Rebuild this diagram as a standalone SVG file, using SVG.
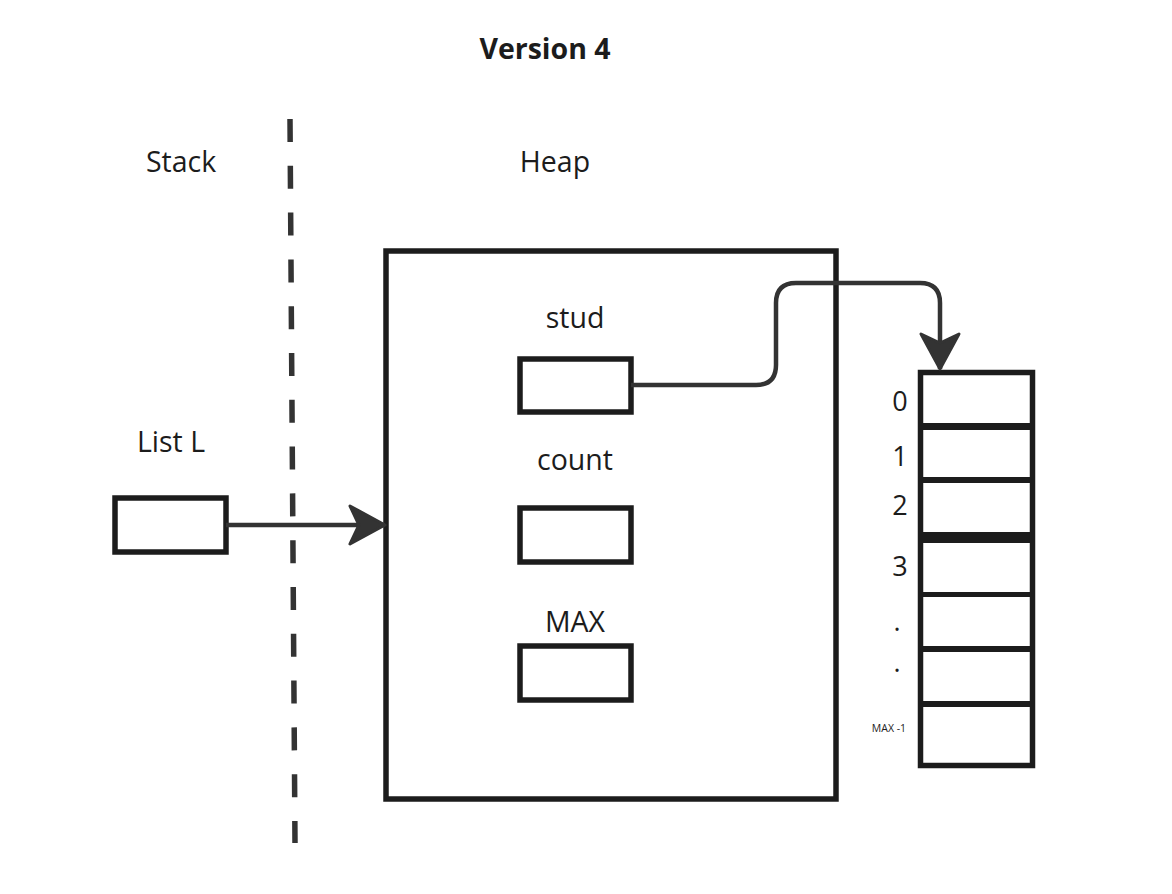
<svg xmlns="http://www.w3.org/2000/svg" width="1172" height="894" viewBox="0 0 1172 894">
  <style>
    .t { font-family: "Open Sans", "Noto Sans", "Liberation Sans", sans-serif; fill: #1c1c1c; }
    .lbl { font-size: 28.5px; text-anchor: middle; }
    .idx { font-size: 27px; text-anchor: middle; }
    .box { fill: #ffffff; stroke: #1c1c1c; stroke-width: 5.5; }
    .conn { fill: none; stroke: #333333; stroke-width: 4.5; }
    .cell { stroke: #1c1c1c; }
  </style>
  <defs>
    <marker id="arr" viewBox="-40 -24 44 48" markerWidth="44" markerHeight="48" refX="0" refY="0" orient="auto" markerUnits="userSpaceOnUse">
      <path d="M0,0 L-35,-19 L-26,0 L-35,19 Z" fill="#333333" stroke="#333333" stroke-width="3" stroke-linejoin="round"/>
    </marker>
  </defs>
  <rect width="1172" height="894" fill="#ffffff"/>

  <g id="title"><text class="t" x="545" y="59" font-size="28.5" font-weight="bold" text-anchor="middle">Version 4</text></g>
  <g id="stack-label"><text class="t lbl" x="181" y="172">Stack</text></g>
  <g id="heap-label"><text class="t lbl" x="555" y="172">Heap</text></g>

  <g id="divider"><line x1="290" y1="119" x2="295" y2="843" stroke="#333333" stroke-width="5.5" stroke-dasharray="23 23.8"/></g>

  <g id="heap">
    <rect class="box" x="386" y="251" width="450" height="548"/>
  </g>

  <g id="stud">
    <text class="t lbl" x="575" y="328">stud</text>
    <rect class="box" x="520" y="359" width="111" height="53"/>
  </g>
  <g id="count">
    <text class="t lbl" x="575" y="470">count</text>
    <rect class="box" x="520" y="508" width="111" height="54"/>
  </g>
  <g id="max">
    <text class="t lbl" x="575" y="632">MAX</text>
    <rect class="box" x="520" y="646" width="111" height="54"/>
  </g>

  <g id="listL">
    <text class="t lbl" x="171" y="452">List L</text>
    <rect class="box" x="115" y="498" width="111" height="54"/>
  </g>

  <g id="array">
    <rect class="box" x="920.5" y="372.5" width="112" height="393" stroke-width="5"/>
    <line class="cell" x1="920" y1="426.5" x2="1033" y2="426.5" stroke-width="7"/>
    <line class="cell" x1="920" y1="480" x2="1033" y2="480" stroke-width="6"/>
    <line class="cell" x1="920" y1="537.5" x2="1033" y2="537.5" stroke-width="11"/>
    <line class="cell" x1="920" y1="594.5" x2="1033" y2="594.5" stroke-width="5"/>
    <line class="cell" x1="920" y1="649" x2="1033" y2="649" stroke-width="6"/>
    <line class="cell" x1="920" y1="704" x2="1033" y2="704" stroke-width="6"/>
    <text class="t idx" x="900" y="411">0</text>
    <text class="t idx" x="900" y="466">1</text>
    <text class="t idx" x="900" y="515">2</text>
    <text class="t idx" x="900" y="576">3</text>
    <text class="t idx" x="897" y="631">.</text>
    <text class="t idx" x="897" y="672">.</text>
    <text class="t" x="889" y="732" font-size="10.5" text-anchor="middle">MAX -1</text>
  </g>

  <g id="connectors">
    <path class="conn" d="M226,525 L385,525" marker-end="url(#arr)"/>
    <path class="conn" d="M631,385 L756,385 Q776,385 776,365 L776,303 Q776,283 796,283 L920,283 Q940,283 940,303 L940,369" marker-end="url(#arr)"/>
  </g>
</svg>
